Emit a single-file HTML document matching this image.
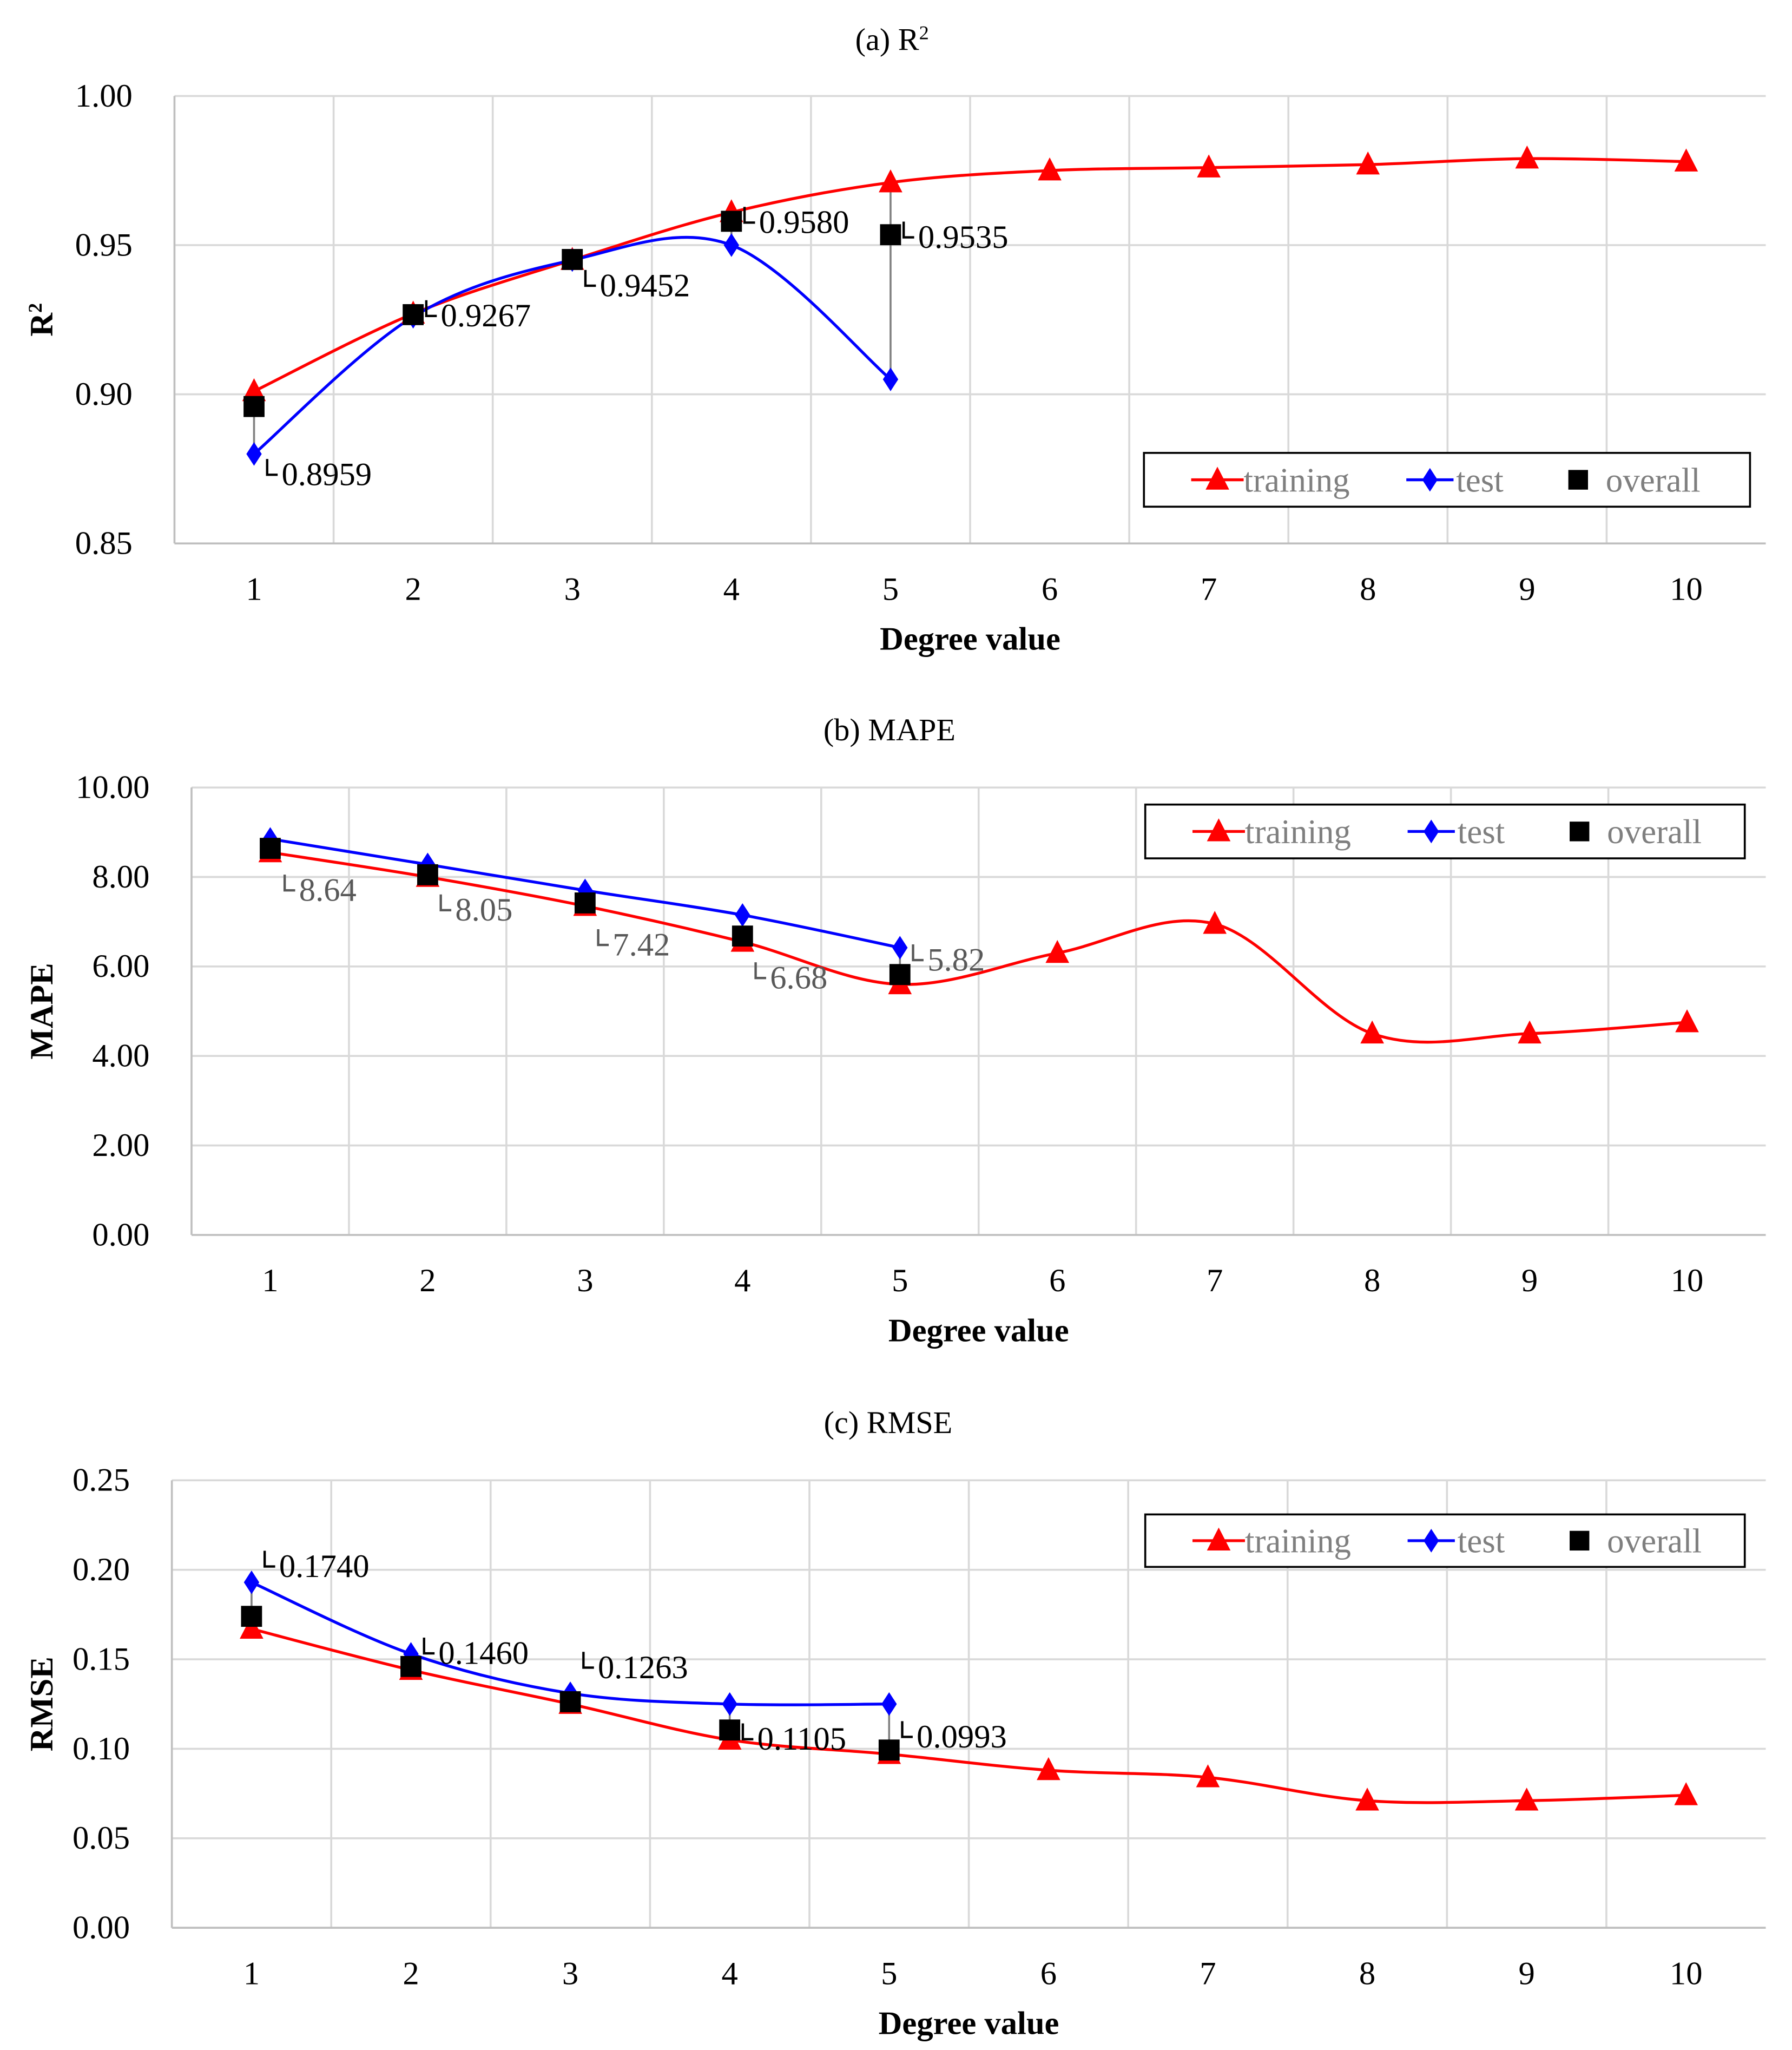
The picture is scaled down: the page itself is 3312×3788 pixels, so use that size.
<!DOCTYPE html>
<html><head><meta charset="utf-8">
<style>
html,body{margin:0;padding:0;background:#fff;}
svg{display:block;}
text{font-family:"Liberation Serif",serif;}
</style></head>
<body>
<svg id="root" width="3312" height="3788" viewBox="0 0 1366 1562" xmlns="http://www.w3.org/2000/svg"></svg>
<script>
// ---- data ----
const degrees = [1,2,3,4,5,6,7,8,9,10];
const r2Training = [0.901,0.927,0.945,0.961,0.971,0.975,0.976,0.977,0.979,0.978];
const r2Test = [0.880,0.926,0.945,0.950,0.905];
const r2Overall = [0.8959,0.9267,0.9452,0.9580,0.9535];
const r2Labels = ["0.8959","0.9267","0.9452","0.9580","0.9535"];
const r2Ticks = ["0.85","0.90","0.95","1.00"];
const mapeTraining = [8.55,8.0,7.35,6.55,5.6,6.3,6.95,4.5,4.5,4.75];
const mapeTest = [8.85,8.28,7.7,7.15,6.42];
const mapeOverall = [8.64,8.05,7.42,6.68,5.82];
const mapeLabels = ["8.64","8.05","7.42","6.68","5.82"];
const mapeTicks = ["0.00","2.00","4.00","6.00","8.00","10.00"];
const rmseTraining = [0.167,0.144,0.125,0.105,0.097,0.088,0.084,0.071,0.071,0.074];
const rmseTest = [0.193,0.153,0.131,0.125,0.125];
const rmseOverall = [0.1740,0.1460,0.1263,0.1105,0.0993];
const rmseLabels = ["0.1740","0.1460","0.1263","0.1105","0.0993"];
const rmseTicks = ["0.00","0.05","0.10","0.15","0.20","0.25"];

const NS="http://www.w3.org/2000/svg";
const root=document.getElementById('root');
function el(tag,attrs,parent){const e=document.createElementNS(NS,tag);for(const k in attrs)e.setAttribute(k,attrs[k]);(parent||root).appendChild(e);return e;}
function smooth(pts){
  if(pts.length<2)return '';
  let d='M'+pts[0][0]+','+pts[0][1];
  for(let i=0;i<pts.length-1;i++){
    const p0=pts[i-1]||pts[i],p1=pts[i],p2=pts[i+1],p3=pts[i+2]||p2;
    const c1=[p1[0]+(p2[0]-p0[0])/6,p1[1]+(p2[1]-p0[1])/6];
    const c2=[p2[0]-(p3[0]-p1[0])/6,p2[1]-(p3[1]-p1[1])/6];
    d+=' C'+c1[0]+','+c1[1]+' '+c2[0]+','+c2[1]+' '+p2[0]+','+p2[1];
  }
  return d;
}
function tri(g,x,y,s){const p=el('path',{d:`M${x},${y-s} L${x+s*0.9},${y+s*0.75} L${x-s*0.9},${y+s*0.75}Z`,fill:'#ff0000'},g);}
function dia(g,x,y,s){const p=el('path',{d:`M${x},${y-s} L${x+s*0.65},${y} L${x},${y+s} L${x-s*0.65},${y}Z`,fill:'#0000ff'},g);}
function sq(g,x,y,s){const p=el('rect',{x:x-s,y:y-s,width:2*s,height:2*s,fill:'#000'},g);}

function chart(cfg){
  const g=el('g',{});
  
  
  const {x0,x1,y0,y1,vmin,vmax}=cfg;
  const bw=(x1-x0)/degrees.length;
  const X=i=>x0+bw*(i+0.5);
  const Y=v=>y1-(v-vmin)/(vmax-vmin)*(y1-y0);
  const t=el('text',{x:cfg.titleX,y:cfg.titleY,'font-size':24,'text-anchor':'middle'},g);t.innerHTML=cfg.title;
  
  cfg.ticks.forEach((tk,i)=>{
    const v=vmin+(vmax-vmin)*i/(cfg.ticks.length-1);
    const y=Y(v);
    if(i>0)el('line',{x1:x0,x2:x1,y1:y,y2:y,stroke:'#d9d9d9','stroke-width':1.5},g);
    const tx=el('text',{x:x0-32,y:y+8,'font-size':25,'text-anchor':'end'},g);tx.textContent=tk;
    
  });
  for(let i=1;i<degrees.length;i++)el('line',{x1:x0+bw*i,x2:x0+bw*i,y1:y0,y2:y1,stroke:'#d9d9d9','stroke-width':1.5},g);
  el('line',{x1:x0,x2:x0,y1:y0,y2:y1,stroke:'#bfbfbf','stroke-width':1.5},g);
  el('line',{x1:x0,x2:x1,y1:y1,y2:y1,stroke:'#bfbfbf','stroke-width':1.5},g);
  degrees.forEach((d,i)=>{const tx=el('text',{x:X(i),y:y1+43,'font-size':25,'text-anchor':'middle'},g);tx.textContent=d;
    });
  const xt=el('text',{x:(x0+x1)/2,y:y1+81,'font-size':25,'font-weight':'bold','text-anchor':'middle'},g);xt.textContent='Degree value';
  
  const yt=el('text',{x:0,y:0,'font-size':25,'font-weight':'bold','text-anchor':'middle',transform:`translate(40,${(y0+y1)/2}) rotate(-90)`},g);yt.innerHTML=cfg.ytitle;
  
  cfg.test.forEach((v,i)=>{el('line',{x1:X(i),x2:X(i),y1:Y(cfg.train[i]),y2:Y(v),stroke:'#808080','stroke-width':1.5},g);});
  const pt=cfg.train.map((v,i)=>[X(i),Y(v)]);
  const pte=cfg.test.map((v,i)=>[X(i),Y(v)]);
  const l1=el('path',{d:smooth(pt),fill:'none',stroke:'#ff0000','stroke-width':2.2},g);
  
  const l2=el('path',{d:smooth(pte),fill:'none',stroke:'#0000ff','stroke-width':2.2},g);
  
  pt.forEach(p=>tri(g,p[0],p[1],10));
  pte.forEach(p=>dia(g,p[0],p[1],9));
  cfg.overall.forEach((v,i)=>{
    const x=X(i),y=Y(v);sq(g,x,y,8);
    const o=cfg.lab[i];const lx=x+o[0],ly=y+o[1];
    el('path',{d:`M${lx-14},${ly-20} L${lx-14},${ly-8} L${lx-6},${ly-8}`,fill:'none',stroke:cfg.labColor,'stroke-width':1.8},g);
    const lt=el('text',{x:lx-3,y:ly,'font-size':25,fill:cfg.labColor},g);lt.textContent=cfg.labels[i];
    
  });
  const L=cfg.legend;
  const lg=el('g',{},g);
  el('rect',{x:L[0],y:L[1],width:L[2],height:L[3],fill:'#fff',stroke:'#000','stroke-width':1.5},lg);
  const cy=L[1]+L[3]/2;
  el('line',{x1:L[0]+36,x2:L[0]+76,y1:cy,y2:cy,stroke:'#ff0000','stroke-width':2.2},lg);tri(lg,L[0]+56,cy,10);
  el('line',{x1:L[0]+200,x2:L[0]+236,y1:cy,y2:cy,stroke:'#0000ff','stroke-width':2.2},lg);dia(lg,L[0]+218,cy,9);
  sq(lg,L[0]+331,cy,7.5);
  [['training',L[0]+76],['test',L[0]+238],['overall',L[0]+352]].forEach(a=>{
    const tx=el('text',{x:a[1],y:cy+9,'font-size':26,fill:'#7f7f7f'},lg);tx.textContent=a[0];
    
  });
}

chart({name:'r2-chart',title:'(a) R<tspan baseline-shift="super" font-size="15">2</tspan>',titleX:680,titleY:38,x0:133,x1:1346,y0:73,y1:414,vmin:0.85,vmax:1.0,
  ticks:r2Ticks,ytitle:'R<tspan baseline-shift="super" font-size="15">2</tspan>',train:r2Training,test:r2Test,overall:r2Overall,labels:r2Labels,labColor:'#000',
  lab:[[24,60],[24,9],[24,28],[24,9],[24,10]],legend:[872,345,462,41]});
chart({name:'mape-chart',title:'(b) MAPE',titleX:678,titleY:564,x0:146,x1:1346,y0:600,y1:941,vmin:0,vmax:10,
  ticks:mapeTicks,ytitle:'MAPE',train:mapeTraining,test:mapeTest,overall:mapeOverall,labels:mapeLabels,labColor:'#595959',
  lab:[[25,40],[24,35],[24,40],[24,40],[24,-3]],legend:[873,613,457,41]});
chart({name:'rmse-chart',title:'(c) RMSE',titleX:677,titleY:1092,x0:131,x1:1346,y0:1128,y1:1469,vmin:0,vmax:0.25,
  ticks:rmseTicks,ytitle:'RMSE',train:rmseTraining,test:rmseTest,overall:rmseOverall,labels:rmseLabels,labColor:'#000',
  lab:[[24,-30],[24,-2],[24,-18],[24,15],[24,-2]],legend:[873,1154,457,40]});
</script>
</body></html>
